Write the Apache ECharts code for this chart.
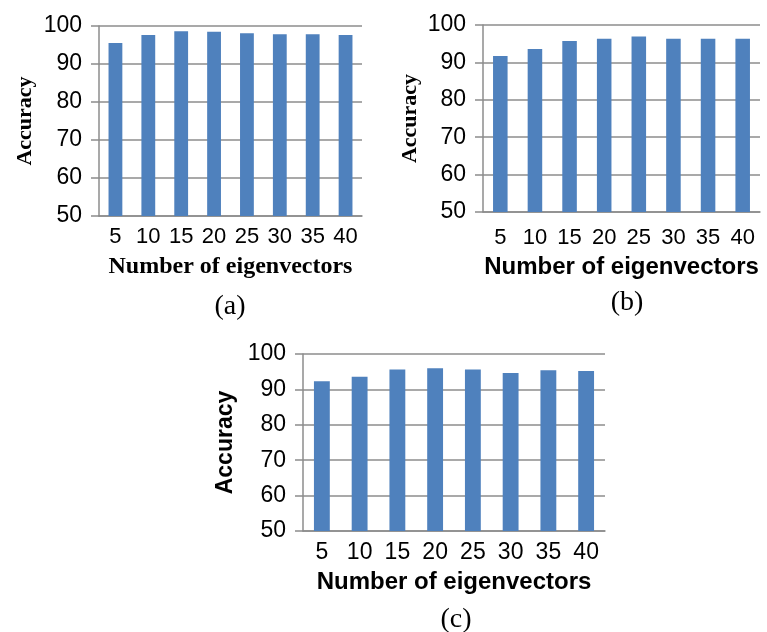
<!DOCTYPE html>
<html>
<head>
<meta charset="utf-8">
<script src="https://cdn.jsdelivr.net/npm/echarts@6/dist/echarts.min.js"></script>
<style>html,body{margin:0;padding:0;background:#fff;}#c{width:767px;height:632px;}</style>
</head>
<body>
<div id="c"></div>
<script>
const categories = ['5','10','15','20','25','30','35','40'];
const accuracyA = [95.5, 97.6, 98.6, 98.5, 98.1, 97.8, 97.8, 97.6];
const accuracyB = [91.7, 93.6, 95.7, 96.3, 96.9, 96.3, 96.3, 96.3];
const accuracyC = [92.3, 93.6, 95.6, 96.0, 95.6, 94.6, 95.4, 95.2];
const yTicks = {min: 50, max: 100, interval: 10};
const xTitle = 'Number of eigenvectors';
const yTitle = 'Accuracy';
const captions = ['(a)', '(b)', '(c)'];

const SANS = '"Liberation Sans", Arial, sans-serif';
const SERIF = '"Liberation Serif", "Times New Roman", serif';
const GRID_COLOR = '#8c8c8c';
const BAR_COLOR = '#4f81bd';

const panels = [
  {grid: {left: 99, top: 26, width: 263, height: 190}, data: accuracyA,
   xLabelSize: 22, xLabelMargin: 10, yLabelSize: 23,
   xName: {font: SERIF, size: 24, gap: 39}, yName: {font: SERIF, size: 22, gap: 63}},
  {grid: {left: 483, top: 25, width: 277, height: 187}, data: accuracyB,
   xLabelSize: 22, xLabelMargin: 15, yLabelSize: 23,
   xName: {font: SANS, size: 24, gap: 43}, yName: {font: SERIF, size: 22, gap: 62}},
  {grid: {left: 303, top: 354, width: 302, height: 177}, data: accuracyC,
   xLabelSize: 23, xLabelMargin: 10, yLabelSize: 23,
   xName: {font: SANS, size: 24, gap: 39}, yName: {font: SANS, size: 23, gap: 66}}
];

const option = {
  animation: false,
  backgroundColor: '#fff',
  grid: panels.map(p => Object.assign({containLabel: false}, p.grid)),
  xAxis: panels.map((p, i) => ({
    type: 'category', gridIndex: i, data: categories,
    axisLine: {show: true, lineStyle: {color: GRID_COLOR, width: 1.5}},
    axisTick: {show: false},
    axisLabel: {color: '#000', fontFamily: SANS, fontSize: p.xLabelSize, margin: p.xLabelMargin, interval: 0},
    name: xTitle, nameLocation: 'middle', nameGap: p.xName.gap,
    nameTextStyle: {color: '#000', fontFamily: p.xName.font, fontSize: p.xName.size, fontWeight: 'bold'}
  })),
  yAxis: panels.map((p, i) => ({
    type: 'value', gridIndex: i, min: yTicks.min, max: yTicks.max, interval: yTicks.interval,
    axisLine: {show: true, lineStyle: {color: GRID_COLOR, width: 1.5}},
    axisTick: {show: true, length: 8, lineStyle: {color: GRID_COLOR, width: 1.5}},
    splitLine: {show: true, lineStyle: {color: GRID_COLOR, width: 1.5}},
    axisLabel: {color: '#000', fontFamily: SANS, fontSize: p.yLabelSize, margin: 17},
    name: yTitle, nameLocation: 'middle', nameGap: p.yName.gap,
    nameTextStyle: {color: '#000', fontFamily: p.yName.font, fontSize: p.yName.size, fontWeight: 'bold'}
  })),
  series: panels.map((p, i) => ({
    type: 'bar', xAxisIndex: i, yAxisIndex: i, data: p.data,
    barWidth: '42%',
    itemStyle: {color: BAR_COLOR}
  })),
  graphic: [
    {type: 'text', x: 230, y: 307, style: {text: captions[0], font: '28px ' + SERIF, fill: '#000', align: 'center', verticalAlign: 'middle'}},
    {type: 'text', x: 627, y: 303, style: {text: captions[1], font: '28px ' + SERIF, fill: '#000', align: 'center', verticalAlign: 'middle'}},
    {type: 'text', x: 456, y: 620, style: {text: captions[2], font: '28px ' + SERIF, fill: '#000', align: 'center', verticalAlign: 'middle'}}
  ]
};

const chart = echarts.init(document.getElementById('c'), null, {renderer: 'canvas'});
chart.setOption(option);
</script>
</body>
</html>
